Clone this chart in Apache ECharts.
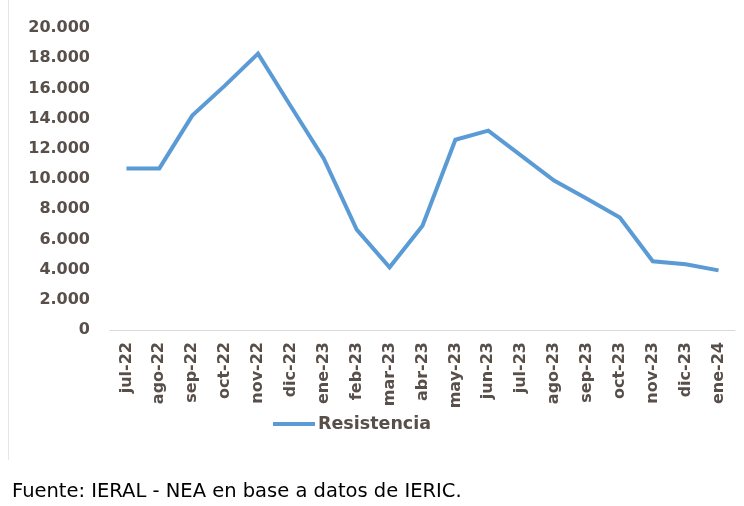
<!DOCTYPE html>
<html>
<head>
<meta charset="utf-8">
<script src="https://cdn.jsdelivr.net/npm/echarts@6/dist/echarts.min.js"></script>
<style>
html,body{margin:0;padding:0;background:#fff;}
#c{width:744px;height:506px;}
</style>
</head>
<body>
<div id="c"></div>
<script>
var categories = ["jul-22","ago-22","sep-22","oct-22","nov-22","dic-22","ene-23","feb-23","mar-23","abr-23","may-23","jun-23","jul-23","ago-23","sep-23","oct-23","nov-23","dic-23","ene-24"];
var resistencia = [10700,10700,14200,16200,18300,14800,11350,6650,4150,6900,12600,13200,11550,9900,8700,7450,4550,4350,3950];
var yTicks = [0,2000,4000,6000,8000,10000,12000,14000,16000,18000,20000];
var seriesName = "Resistencia";
var sourceText = "Fuente: IERAL - NEA en base a datos de IERIC.";

var chart = echarts.init(document.getElementById('c'), null, {renderer:'canvas'});
var labelColor = '#584f4a';
chart.setOption({
  animation:false,
  backgroundColor:'#ffffff',
  grid:{left:110,right:9,top:28,bottom:176},
  legend:{
    data:[seriesName],
    left:273, top:415, padding:0,
    itemWidth:42, itemHeight:4, itemGap:0,
    icon:'rect',
    textStyle:{fontFamily:'DejaVu Sans',fontWeight:'bold',fontSize:17.5,color:labelColor,padding:[0,0,0,-2]}
  },
  xAxis:{
    type:'category',
    data:categories,
    boundaryGap:true,
    axisLine:{lineStyle:{color:'#d9d9d9',width:1}},
    axisTick:{show:false},
    axisLabel:{rotate:90,interval:0,margin:12,fontFamily:'DejaVu Sans',fontWeight:'bold',fontSize:16,color:labelColor}
  },
  yAxis:{
    type:'value',
    min:0,max:20000,interval:2000,
    splitLine:{show:false},
    axisLine:{show:false},
    axisTick:{show:false},
    axisLabel:{margin:20,fontFamily:'DejaVu Sans',fontWeight:'bold',fontSize:16,color:labelColor,
      formatter:function(v){ return yTicks.indexOf(v)>=0 ? v.toLocaleString('de-DE') : ''; }}
  },
  series:[{
    name:seriesName,
    type:'line',
    data:resistencia,
    symbol:'none',
    lineStyle:{color:'#5B9BD5',width:4,join:'miter'},
    itemStyle:{color:'#5B9BD5'}
  }],
  graphic:[
    {type:'line',shape:{x1:8.5,y1:0,x2:8.5,y2:460},style:{stroke:'#e6e6e6',lineWidth:1}},
    {type:'text',left:12,top:482,style:{text:sourceText,fontFamily:'DejaVu Sans',fontSize:19.5,fill:'#000000'}}
  ]
});
</script>
</body>
</html>
